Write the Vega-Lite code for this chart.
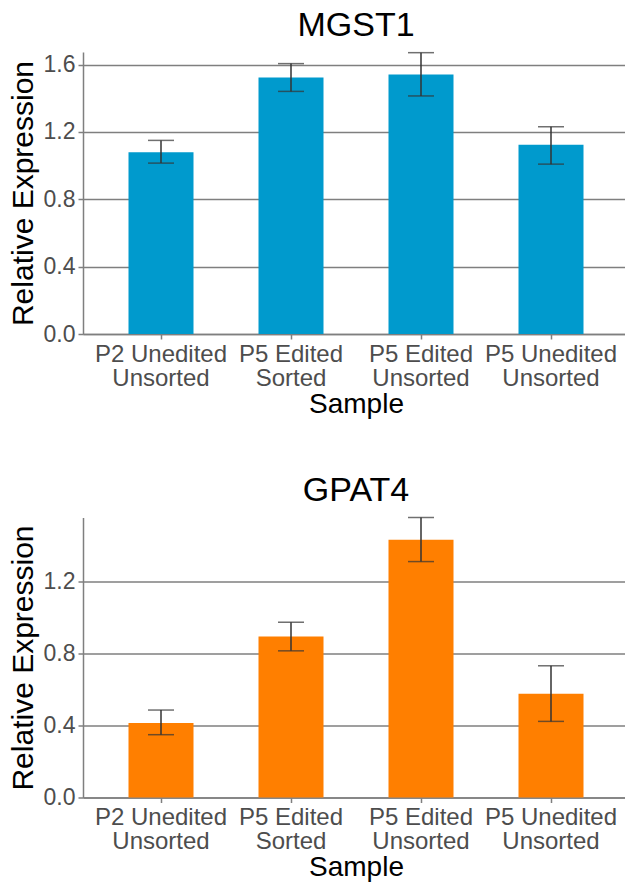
{
  "$schema": "https://vega.github.io/schema/vega-lite/v6.json",
  "background": "white",
  "padding": {"left": 8, "top": 8, "right": 0, "bottom": 0},
  "spacing": 55.5,
  "datasets": {
    "mgst1": [
      {"sample": "P2 Unedited|Unsorted", "mean": 1.080, "lo": 1.015, "hi": 1.150},
      {"sample": "P5 Edited|Sorted", "mean": 1.523, "lo": 1.441, "hi": 1.606},
      {"sample": "P5 Edited|Unsorted", "mean": 1.542, "lo": 1.414, "hi": 1.671},
      {"sample": "P5 Unedited|Unsorted", "mean": 1.124, "lo": 1.009, "hi": 1.231}
    ],
    "gpat4": [
      {"sample": "P2 Unedited|Unsorted", "mean": 0.414, "lo": 0.349, "hi": 0.486},
      {"sample": "P5 Edited|Sorted", "mean": 0.895, "lo": 0.815, "hi": 0.974},
      {"sample": "P5 Edited|Unsorted", "mean": 1.433, "lo": 1.311, "hi": 1.556},
      {"sample": "P5 Unedited|Unsorted", "mean": 0.577, "lo": 0.423, "hi": 0.732}
    ]
  },
  "config": {
    "view": {"stroke": null},
    "font": "Liberation Sans",
    "title": {"fontSize": 34, "fontWeight": "normal", "color": "black", "anchor": "middle", "font": "Liberation Sans", "offset": 9},
    "axis": {
      "domainColor": "#7f7f7f",
      "domainWidth": 1.5,
      "tickColor": "#7f7f7f",
      "tickWidth": 1.5,
      "tickSize": 5,
      "gridColor": "#7f7f7f",
      "gridWidth": 1.5,
      "labelColor": "#4d4d4d",
      "labelFont": "Liberation Sans",
      "titleFont": "Liberation Sans",
      "titleColor": "black",
      "titleFontWeight": "normal"
    }
  },
  "vconcat": [
    {
      "title": {"text": "MGST1"},
      "width": 546,
      "height": 282,
      "data": {"name": "mgst1"},
      "encoding": {
        "x": {
          "field": "sample", "type": "nominal", "sort": null,
          "scale": {"paddingInner": 0.5, "paddingOuter": 0.35},
          "axis": {"title": "Sample", "labelAngle": 0, "labelFontSize": 24, "labelLineHeight": 24, "labelPadding": 3, "titleFontSize": 28, "titlePadding": 0, "grid": false, "labelExpr": "split(datum.value, '|')"}
        }
      },
      "layer": [
        {
          "mark": {"type": "bar", "color": "#009ACD"},
          "encoding": {
            "y": {
              "field": "mean", "type": "quantitative",
              "scale": {"domain": [0, 1.675], "nice": false, "zero": true},
              "axis": {"title": "Relative Expression", "values": [0, 0.4, 0.8, 1.2, 1.6], "format": ".1f", "grid": true, "labelFontSize": 23, "labelPadding": 3, "titleFontSize": 30, "titlePadding": 5}
            }
          }
        },
        {
          "mark": {"type": "rule", "color": "#333333", "strokeWidth": 1.5},
          "encoding": {"y": {"field": "lo", "type": "quantitative"}, "y2": {"field": "hi"}}
        },
        {
          "mark": {"type": "tick", "color": "#333333", "thickness": 1.5, "size": 26},
          "encoding": {"y": {"field": "lo", "type": "quantitative"}}
        },
        {
          "mark": {"type": "tick", "color": "#333333", "thickness": 1.5, "size": 26},
          "encoding": {"y": {"field": "hi", "type": "quantitative"}}
        }
      ]
    },
    {
      "title": {"text": "GPAT4"},
      "width": 546,
      "height": 280,
      "data": {"name": "gpat4"},
      "encoding": {
        "x": {
          "field": "sample", "type": "nominal", "sort": null,
          "scale": {"paddingInner": 0.5, "paddingOuter": 0.35},
          "axis": {"title": "Sample", "labelAngle": 0, "labelFontSize": 24, "labelLineHeight": 24, "labelPadding": 3, "titleFontSize": 28, "titlePadding": 0, "grid": false, "labelExpr": "split(datum.value, '|')"}
        }
      },
      "layer": [
        {
          "mark": {"type": "bar", "color": "#FF7F00"},
          "encoding": {
            "y": {
              "field": "mean", "type": "quantitative",
              "scale": {"domain": [0, 1.556], "nice": false, "zero": true},
              "axis": {"title": "Relative Expression", "values": [0, 0.4, 0.8, 1.2], "format": ".1f", "grid": true, "labelFontSize": 23, "labelPadding": 3, "titleFontSize": 30, "titlePadding": 5}
            }
          }
        },
        {
          "mark": {"type": "rule", "color": "#333333", "strokeWidth": 1.5},
          "encoding": {"y": {"field": "lo", "type": "quantitative"}, "y2": {"field": "hi"}}
        },
        {
          "mark": {"type": "tick", "color": "#333333", "thickness": 1.5, "size": 26},
          "encoding": {"y": {"field": "lo", "type": "quantitative"}}
        },
        {
          "mark": {"type": "tick", "color": "#333333", "thickness": 1.5, "size": 26},
          "encoding": {"y": {"field": "hi", "type": "quantitative"}}
        }
      ]
    }
  ]
}
